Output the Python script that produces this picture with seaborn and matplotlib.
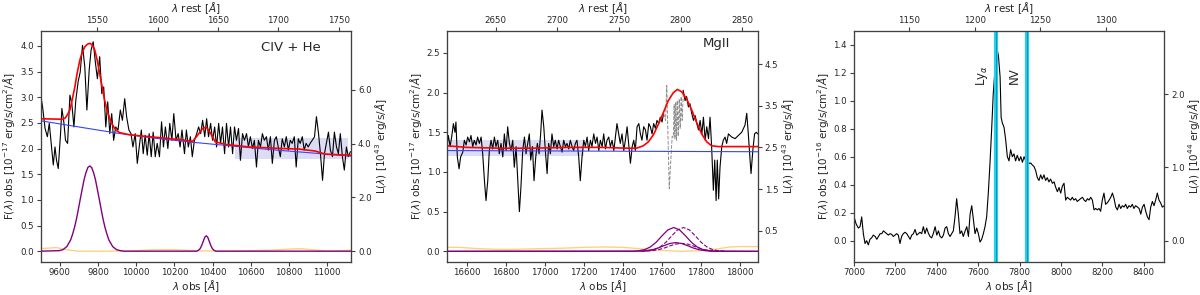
import matplotlib
matplotlib.use("Agg")
import matplotlib.pyplot as plt
import seaborn as sns
import numpy as np
from matplotlib.ticker import FixedLocator, FormatStrFormatter

sns.set_style("ticks")
plt.rcParams.update({
    'font.family': ['DejaVu Sans'],
    'axes.edgecolor': '0.25',
    'xtick.color': '0.25',
    'ytick.color': '0.25',
    'xtick.labelcolor': '0.15',
    'ytick.labelcolor': '0.15',
    'xtick.labelsize': 6.2,
    'ytick.labelsize': 6.2,
    'axes.labelsize': 7.5,
    'axes.linewidth': 0.8,
    'xtick.major.size': 3,
    'ytick.major.size': 3,
    'xtick.major.pad': 1.5,
    'ytick.major.pad': 2,
})

# redshift (1+z) and flux -> luminosity factor
one_plus_z = 6.32
lum_factor = 1.91

# ---------------- panel 1: CIV + HeII ----------------
civ_lam = [9500, 9510, 9523, 9535, 9545, 9557, 9566, 9575, 9583, 9592, 9604, 9611, 9621, 9630, 9641,
           9653, 9663, 9674, 9684, 9696, 9707, 9719, 9731, 9742, 9754, 9764, 9775, 9787, 9797, 9809,
           9820, 9830, 9841, 9851, 9862, 9872, 9882, 9893, 9905, 9917, 9928, 9940, 9950, 9962, 9973,
           9983, 9995, 10006, 10016, 10027, 10037, 10047, 10058, 10068, 10079, 10089, 10100, 10110,
           10122, 10133, 10143, 10153, 10166, 10176, 10187, 10197, 10209, 10220, 10230, 10240, 10253,
           10263, 10273, 10284, 10294, 10305, 10317, 10327, 10338, 10348, 10359, 10369, 10379, 10390,
           10400, 10411, 10421, 10432, 10442, 10452, 10463, 10473, 10484, 10494, 10505, 10515, 10525,
           10536, 10546, 10557, 10567, 10578, 10588, 10598, 10609, 10619, 10630, 10640, 10651, 10661,
           10671, 10682, 10692, 10703, 10713, 10724, 10734, 10744, 10755, 10765, 10776, 10786, 10797,
           10807, 10817, 10828, 10838, 10849, 10859, 10870, 10880, 10890, 10901, 10911, 10922, 10934,
           10944, 10955, 10965, 10976, 10986, 10996, 11007, 11017, 11028, 11038, 11049, 11059, 11069,
           11080, 11090, 11101, 11111, 11122]
civ_flux = [3.04, 2.81, 2.39, 2.23, 2.49, 2.03, 1.68, 2.03, 1.77, 1.61, 2.29, 2.78, 2.52, 2.16, 2.10,
            3.04, 2.88, 2.42, 2.94, 3.30, 3.49, 4.01, 3.59, 2.75, 3.53, 3.92, 4.08, 3.66, 3.36, 3.79,
            3.07, 3.20, 2.42, 2.91, 2.29, 2.68, 2.16, 2.42, 2.36, 2.75, 2.55, 2.97, 2.62, 2.36, 2.29,
            2.03, 2.29, 1.71, 2.03, 2.36, 1.90, 2.26, 1.87, 2.29, 1.84, 2.32, 1.84, 2.10,
            1.84, 2.52, 2.03, 2.42, 2.00, 2.49, 2.16, 2.68, 2.16, 2.29, 2.03, 2.36, 1.90,
            2.36, 2.03, 2.23, 1.84, 2.16, 2.29, 2.42, 2.29, 2.55, 2.23, 2.58, 2.23, 2.49,
            2.16, 2.42, 2.03, 2.49, 2.10, 2.42, 1.90, 2.49, 2.03, 2.42, 1.90, 2.42, 2.16,
            2.39, 1.77, 2.29, 2.16, 2.29, 2.03, 2.23, 2.00, 2.16, 1.64, 2.16, 2.03, 2.29,
            2.16, 2.23, 1.97, 2.23, 1.71, 2.16, 2.23, 2.03, 1.84, 2.19, 2.03, 2.23, 1.97,
            2.16, 2.10, 2.23, 1.64, 2.19, 2.10, 2.23, 1.97, 2.10, 2.03, 2.10, 2.16, 2.23,
            2.62, 2.29, 1.90, 1.38, 1.90, 2.10, 2.32, 1.97, 1.84, 2.32, 2.03, 1.90, 2.29,
            1.84, 1.58, 2.03, 1.84, 1.94]
civ_model_lam = [9500, 9618, 9630, 9640, 9653, 9665, 9679, 9690, 9705, 9718, 9731, 9744, 9757, 9770,
                 9783, 9796, 9809, 9822, 9835, 9848, 9862, 9875, 9888, 9900, 9914, 9948, 9983, 10070,
                 10157, 10261, 10296, 10322, 10348, 10366, 10386, 10414, 10470, 10591, 10765, 10852,
                 10939, 10991, 11125]
civ_model = [2.58, 2.57, 2.60, 2.66, 2.75, 2.95, 3.20, 3.45, 3.72, 3.88, 3.98, 4.03, 4.05, 4.02,
             3.92, 3.72, 3.46, 3.20, 2.94, 2.74, 2.58, 2.47, 2.39, 2.34, 2.31, 2.28, 2.26, 2.23,
             2.20, 2.16, 2.14, 2.26, 2.39, 2.42, 2.32, 2.13, 2.08, 2.03, 2.00, 1.99,
             1.95, 1.89, 1.87]
civ_cont_lam = [9500, 9700, 9900, 10100, 10300, 10500, 10700, 10900, 11125]
civ_cont = [2.54, 2.42, 2.30, 2.20, 2.12, 2.05, 1.98, 1.92, 1.85]
civ_gauss_lam = [9500, 9597, 9617, 9637, 9657, 9667, 9677, 9687, 9697, 9707, 9717, 9727, 9737, 9747,
                 9757, 9767, 9777, 9787, 9797, 9807, 9817, 9827, 9837, 9847, 9857, 9877, 9897, 9917,
                 9940, 10317, 10327, 10335, 10343, 10351, 10359, 10367, 10375, 10383, 10391, 10399,
                 10407, 10417, 11125]
civ_gauss = [0.0, 0.01, 0.03, 0.09, 0.22, 0.33, 0.46, 0.62, 0.81, 1.01, 1.20, 1.39, 1.53, 1.63,
             1.66, 1.63, 1.53, 1.39, 1.20, 1.01, 0.81, 0.62, 0.46, 0.33, 0.22, 0.09, 0.03, 0.01,
             0.0, 0.0, 0.02, 0.05, 0.11, 0.19, 0.27, 0.30, 0.27, 0.19, 0.11, 0.05,
             0.02, 0.0, 0.0]
civ_fe_lam = [9500, 9540, 9580, 9610, 9650, 9700, 9950, 10000, 10100, 10200, 10300, 10450, 10600,
              10700, 10800, 10860, 10920, 11000, 11080, 11125]
civ_fe = [0.05, 0.06, 0.07, 0.05, 0.02, 0.0, 0.0, 0.01, 0.03, 0.03, 0.01, 0.0, 0.01,
          0.02, 0.04, 0.05, 0.03, 0.0, 0.01, 0.02]
civ_band = [10520, 11110, 1.79, 2.21]

# ---------------- panel 2: MgII ----------------
mg_lam_a = [16500, 16505, 16514, 16522, 16531, 16539, 16544, 16551, 16560, 16568, 16579, 16587, 16596,
            16604, 16613, 16621, 16630, 16638, 16647, 16655, 16664, 16673, 16681, 16690, 16698, 16707,
            16715, 16724, 16732, 16741, 16749, 16758, 16766, 16775, 16784, 16792, 16801, 16809, 16818,
            16826, 16835, 16843, 16852, 16860, 16869, 16877, 16886, 16895, 16903, 16912, 16920, 16927,
            16936, 16944, 16953, 16961, 16970, 16978, 16985, 16994, 17002, 17011, 17019, 17028, 17036,
            17045, 17053, 17062, 17070, 17079, 17088, 17096, 17105, 17113, 17122, 17130, 17139, 17147,
            17156, 17164, 17173, 17181, 17190, 17199, 17207, 17216, 17224, 17233, 17241, 17250, 17259,
            17267, 17276, 17284, 17293, 17301, 17310, 17318, 17327, 17335, 17344, 17353, 17361, 17369,
            17378, 17386, 17395, 17404, 17412, 17421, 17429, 17438, 17447, 17455, 17463, 17472, 17481,
            17489, 17497, 17506, 17515, 17523, 17532, 17540, 17549, 17557, 17566, 17574, 17583, 17591,
            17600, 17608]
mg_flux_a = [1.36, 1.46, 1.32, 1.44, 1.61, 1.50, 1.63, 1.19, 1.04, 1.19, 1.25, 1.40, 1.34,
             1.44, 1.38, 1.46, 1.32, 1.40, 1.34, 1.44, 1.36, 1.44, 1.23, 0.89, 0.64, 0.89,
             1.27, 1.40, 1.29, 1.44, 1.32, 1.40, 1.23, 1.36, 1.19, 1.48, 1.27, 1.57, 1.36,
             1.27, 1.40, 1.06, 1.32, 0.94, 0.50, 0.81, 1.27, 1.44, 1.23, 1.36, 1.48, 1.15,
             1.32, 0.89, 1.19, 1.36, 1.23, 1.48, 1.78, 1.57, 1.27, 0.98, 1.36, 1.23, 1.48,
             1.32, 1.40, 1.29, 1.40, 1.32, 1.25, 1.40, 1.32, 1.36, 1.29, 1.40, 1.32, 1.27,
             1.36, 1.40, 1.19, 0.89, 1.19, 1.40, 1.32, 1.44, 1.27, 1.40, 1.32, 1.48, 1.36,
             1.44, 1.27, 1.40, 1.32, 1.48, 1.29, 1.40, 1.44, 1.32, 1.40, 1.27, 1.44, 1.61,
             1.48, 1.36, 1.48, 1.27, 1.40, 1.57, 1.36, 1.11, 1.32, 1.40, 1.27, 1.57, 1.61,
             1.48, 1.40, 1.57, 1.53, 1.40, 1.61, 1.57, 1.48, 1.61, 1.55, 1.65, 1.61, 1.69,
             1.63, 1.74]
mg_lam_b = [17708, 17718, 17726, 17735, 17743, 17752, 17761, 17770, 17778, 17787, 17795, 17804, 17812,
            17821, 17829, 17838, 17846, 17854, 17863, 17870, 17877, 17883, 17890, 17897, 17906, 17914,
            17923, 17931, 17940, 17957, 17974, 17991, 18008, 18025, 18034, 18042, 18051, 18056, 18065,
            18074, 18083, 18090]
mg_flux_b = [2.03, 1.90, 1.95, 1.82, 1.86, 1.74, 1.65, 1.71, 1.61, 1.53, 1.65, 1.48, 1.69,
             1.40, 1.57, 1.42, 1.69, 1.32, 0.77, 1.15, 0.64, 1.15, 0.66, 1.06, 1.32, 1.40,
             1.44, 1.36, 1.48, 1.44, 1.42, 1.46, 1.50, 1.59, 1.74, 1.48, 1.15, 0.98, 1.27,
             1.48, 1.50, 1.48]
mg_mask_lam = [17608, 17618, 17624, 17630, 17637, 17646, 17652, 17658, 17662, 17666, 17670, 17674,
               17678, 17683, 17688, 17693, 17698, 17703, 17709]
mg_mask = [1.74, 1.65, 2.09, 1.50, 0.79, 1.20, 1.45, 1.44, 1.85, 1.42, 1.88, 1.40,
           1.90, 1.45, 1.92, 1.55, 1.95, 1.65, 2.01]
mg_model_lam = [16500, 16599, 16770, 16941, 17111, 17282, 17419, 17470, 17504, 17530, 17556, 17581,
                17607, 17632, 17658, 17679, 17701, 17726, 17752, 17778, 17803, 17829, 17854, 17889, 18090]
mg_model = [1.33, 1.31, 1.30, 1.30, 1.31, 1.31, 1.30, 1.30, 1.33, 1.38, 1.47, 1.60,
            1.75, 1.90, 2.00, 2.04, 2.01, 1.92, 1.78, 1.62, 1.48, 1.38, 1.33, 1.32, 1.32]
mg_cont_lam = [16500, 18090]
mg_cont = [1.27, 1.255]
mg_gauss_lam = [16500, 17450, 17480, 17510, 17540, 17570, 17600, 17630, 17660, 17690, 17720, 17750,
                17780, 17810, 17840, 17870, 18090]
mg_gauss_big = [0.0, 0.002, 0.007, 0.021, 0.055, 0.115, 0.196, 0.270, 0.30, 0.270, 0.196, 0.115,
                0.055, 0.021, 0.007, 0.002, 0.0]
mg_gauss_small_lam = [16500, 17460, 17490, 17520, 17550, 17580, 17610, 17640, 17670, 17700, 17730,
                      17760, 17790, 17820, 17850, 17880, 18090]
mg_gauss_small = [0.0, 0.001, 0.003, 0.008, 0.020, 0.042, 0.072, 0.099, 0.11, 0.099, 0.072,
                  0.042, 0.020, 0.008, 0.003, 0.001, 0.0]
mg_dash_big_lam = [17500, 17530, 17560, 17590, 17620, 17650, 17680, 17710, 17740, 17770, 17800,
                   17830, 17860, 17890, 17920]
mg_dash_big = [0.002, 0.007, 0.021, 0.055, 0.115, 0.196, 0.270, 0.30, 0.270, 0.196, 0.115,
               0.055, 0.021, 0.007, 0.002]
mg_dash_small_lam = [17490, 17520, 17550, 17580, 17610, 17640, 17670, 17700, 17730, 17760, 17790,
                     17820, 17850, 17880, 17910]
mg_dash_small = [0.001, 0.003, 0.008, 0.020, 0.040, 0.068, 0.092, 0.10, 0.092, 0.068, 0.040,
                 0.020, 0.008, 0.003, 0.001]
mg_fe_lam = [16500, 16560, 16650, 16750, 16850, 17000, 17100, 17200, 17300, 17400, 17500, 17600,
             17700, 17800, 17880, 17950, 18000, 18090]
mg_fe = [0.05, 0.05, 0.035, 0.025, 0.025, 0.035, 0.04, 0.05, 0.055, 0.05, 0.03, 0.01,
         0.0, 0.01, 0.03, 0.055, 0.06, 0.06]
mg_band = [16500, 17200, 1.20, 1.40]

# ---------------- panel 3: Lya + NV ----------------
lya_lam = [7000, 7010, 7021, 7029, 7037, 7045, 7053, 7061, 7069, 7077, 7085, 7093, 7102, 7110, 7118,
           7126, 7134, 7142, 7150, 7158, 7166, 7174, 7182, 7190, 7198, 7206, 7214, 7222, 7230, 7238,
           7246, 7255, 7263, 7271, 7279, 7287, 7295, 7303, 7311, 7319, 7327, 7335, 7343, 7351, 7359,
           7367, 7375, 7383, 7392, 7400, 7408, 7416, 7424, 7432, 7440, 7448, 7456, 7464, 7472, 7480,
           7488, 7496, 7504, 7512, 7520, 7528, 7537, 7545, 7553, 7561, 7569, 7577, 7585, 7593, 7601,
           7609, 7617, 7625, 7633, 7641, 7649, 7657, 7665, 7673, 7682, 7690, 7698, 7706, 7711, 7717,
           7725, 7733, 7741, 7749, 7757, 7765, 7773, 7781, 7789, 7798, 7806, 7814, 7822, 7830, 7838,
           7846, 7854, 7862, 7870, 7878, 7886, 7894, 7902, 7910, 7918, 7926, 7934, 7942, 7950, 7959,
           7967, 7975, 7983, 7991, 7999, 8007, 8015, 8023, 8031, 8039, 8047, 8055, 8063, 8071, 8079,
           8087, 8095, 8104, 8112, 8120, 8128, 8136, 8144, 8152, 8160, 8168, 8176, 8184, 8192, 8200,
           8208, 8216, 8224, 8233, 8241, 8249, 8257, 8265, 8273, 8281, 8289, 8297, 8305, 8313, 8321,
           8329, 8337, 8345, 8353, 8361, 8370, 8378, 8386, 8394, 8402, 8410, 8418, 8426, 8434, 8442,
           8450, 8458, 8466, 8474, 8482, 8490, 8500]
lya_flux = [0.17, 0.12, 0.09, 0.10, 0.17, 0.05, -0.02, 0.00, -0.03, 0.01, 0.02, 0.04, 0.03, 0.01, 0.03,
            0.05, 0.05, 0.07, 0.06, 0.05, 0.04, 0.05, 0.045, 0.03, 0.04, 0.05, 0.04, -0.02, 0.03, 0.05,
            0.06, 0.05, 0.03, 0.01, 0.04, 0.05, 0.08, 0.04, 0.05, 0.06, 0.05, 0.10, 0.05, 0.09, 0.055,
            0.03, 0.02, 0.05, 0.10, 0.04, 0.07, 0.03, 0.02, 0.04, 0.09, 0.10, 0.05, 0.03, 0.05, 0.07,
            0.17, 0.30, 0.19, 0.05, 0.07, 0.03, 0.07, 0.10, 0.03, 0.19, 0.25, 0.15, 0.05, 0.09, 0.05,
            -0.01, 0.01, 0.05, 0.10, 0.17, 0.34, 0.55, 0.79, 1.05, 1.24, 1.38, 1.32, 1.17, 0.88, 0.84,
            0.81, 0.72, 0.60, 0.57, 0.65, 0.60, 0.62, 0.57, 0.61, 0.57, 0.60, 0.56, 0.60, 0.57, 0.59,
            0.55, 0.555, 0.54, 0.53, 0.50, 0.45, 0.43, 0.47, 0.44, 0.47, 0.43, 0.45, 0.42, 0.44, 0.41,
            0.42, 0.38, 0.35, 0.38, 0.34, 0.39, 0.41, 0.29, 0.31, 0.30, 0.29, 0.31, 0.29, 0.30, 0.28,
            0.29, 0.30, 0.31, 0.29, 0.28, 0.30, 0.29, 0.31, 0.29, 0.22, 0.23, 0.22, 0.23, 0.21, 0.29,
            0.34, 0.26, 0.27, 0.29, 0.31, 0.34, 0.30, 0.24, 0.22, 0.26, 0.23, 0.25, 0.24, 0.26, 0.23,
            0.25, 0.24, 0.26, 0.23, 0.25, 0.24, 0.23, 0.19, 0.24, 0.26, 0.21, 0.17, 0.15, 0.24, 0.28,
            0.25, 0.29, 0.34, 0.29, 0.27, 0.24, 0.25]
lya_lines = [7685, 7837]
lya_line_names = [r'Ly$_{\alpha}$', 'NV']

# axis limits and ticks
panel_xlim = [(9500, 11125), (16500, 18090), (7000, 8500)]
panel_ylim = [(-0.21, 4.29), (-0.134, 2.777), (-0.152, 1.498)]
left_ticks = [np.arange(0, 4.01, 0.5), np.arange(0, 2.51, 0.5), np.arange(0, 1.41, 0.2)]
right_ticks = [[0, 2, 4, 6], [0.5, 1.5, 2.5, 3.5, 4.5], [0, 1, 2]]
bottom_ticks = [np.arange(9600, 11001, 200), np.arange(16600, 18001, 200), np.arange(7000, 8401, 200)]
top_ticks = [[1550, 1600, 1650, 1700, 1750], [2650, 2700, 2750, 2800, 2850], [1150, 1200, 1250, 1300]]
flux_labels = [r'F($\lambda$) obs [10$^{-17}$ erg/s/cm$^2$/$\AA$]',
               r'F($\lambda$) obs [10$^{-17}$ erg/s/cm$^2$/$\AA$]',
               r'F($\lambda$) obs [10$^{-16}$ erg/s/cm$^2$/$\AA$]']
lum_labels = [r'L($\lambda$) [10$^{43}$ erg/s/$\AA$]',
              r'L($\lambda$) [10$^{43}$ erg/s/$\AA$]',
              r'L($\lambda$) [10$^{44}$ erg/s/$\AA$]']
line_labels = ['CIV + He', 'MgII']
line_label_pos = [(0.806, 0.93), (0.868, 0.945)]

fig = plt.figure(figsize=(12, 2.95), dpi=100)
lefts = [0.0339, 0.3728, 0.7117]
axes = []
for i, left in enumerate(lefts):
    ax = fig.add_axes([left, 0.112, 0.2586, 0.783])
    ax.set_xlim(panel_xlim[i])
    ax.set_ylim(panel_ylim[i])
    ax.xaxis.set_major_locator(FixedLocator(bottom_ticks[i]))
    ax.yaxis.set_major_locator(FixedLocator(left_ticks[i]))
    ax.yaxis.set_major_formatter(FormatStrFormatter('%.1f'))
    ax.set_xlabel(r'$\lambda$ obs [$\AA$]', labelpad=1)
    ax.set_ylabel(flux_labels[i], labelpad=2)

    top = ax.twiny()
    top.set_xlim(panel_xlim[i][0] / one_plus_z, panel_xlim[i][1] / one_plus_z)
    top.xaxis.set_major_locator(FixedLocator(top_ticks[i]))
    top.set_xlabel(r'$\lambda$ rest [$\AA$]', labelpad=2.5)

    right = ax.twinx()
    right.set_ylim(panel_ylim[i][0] * lum_factor, panel_ylim[i][1] * lum_factor)
    right.yaxis.set_major_locator(FixedLocator(right_ticks[i]))
    right.yaxis.set_major_formatter(FormatStrFormatter('%.1f'))
    right.set_ylabel(lum_labels[i], labelpad=1)
    axes.append(ax)

line_kw = dict(estimator=None, sort=False, legend=False)

# panel 1
ax = axes[0]
ax.fill_between(civ_band[:2], civ_band[2], civ_band[3], color='#dcdcf4', lw=0, zorder=0)
sns.lineplot(x=civ_lam, y=civ_flux, ax=ax, color='k', lw=0.8, **line_kw)
sns.lineplot(x=civ_cont_lam, y=civ_cont, ax=ax, color='#3344ff', lw=0.8, **line_kw)
sns.lineplot(x=civ_model_lam, y=civ_model, ax=ax, color='red', lw=1.2, **line_kw)
sns.lineplot(x=civ_fe_lam, y=civ_fe, ax=ax, color='orange', lw=1.0, alpha=0.5, **line_kw)
sns.lineplot(x=civ_gauss_lam, y=civ_gauss, ax=ax, color='purple', lw=1.0, **line_kw)

# panel 2
ax = axes[1]
ax.fill_between(mg_band[:2], mg_band[2], mg_band[3], color='#dcdcf4', lw=0, zorder=0)
sns.lineplot(x=mg_lam_a, y=mg_flux_a, ax=ax, color='k', lw=0.8, **line_kw)
sns.lineplot(x=mg_lam_b, y=mg_flux_b, ax=ax, color='k', lw=0.8, **line_kw)
sns.lineplot(x=mg_mask_lam, y=mg_mask, ax=ax, color='0.55', lw=0.7, ls='--', **line_kw)
sns.lineplot(x=mg_cont_lam, y=mg_cont, ax=ax, color='#3344ff', lw=0.8, **line_kw)
sns.lineplot(x=mg_model_lam, y=mg_model, ax=ax, color='red', lw=1.2, **line_kw)
sns.lineplot(x=mg_fe_lam, y=mg_fe, ax=ax, color='orange', lw=1.0, alpha=0.5, **line_kw)
sns.lineplot(x=mg_gauss_lam, y=mg_gauss_big, ax=ax, color='purple', lw=0.9, **line_kw)
sns.lineplot(x=mg_gauss_small_lam, y=mg_gauss_small, ax=ax, color='purple', lw=0.9, **line_kw)
sns.lineplot(x=mg_dash_big_lam, y=mg_dash_big, ax=ax, color='purple', lw=0.8, ls='--', **line_kw)
sns.lineplot(x=mg_dash_small_lam, y=mg_dash_small, ax=ax, color='purple', lw=0.8, ls='--', **line_kw)

for ax, name, (tx, ty) in zip(axes[:2], line_labels, line_label_pos):
    ax.text(tx, ty, name, transform=ax.transAxes, fontsize=9.5, ha='center', va='center')

# panel 3
ax = axes[2]
sns.lineplot(x=lya_lam, y=lya_flux, ax=ax, color='k', lw=0.8, **line_kw)
for lam, name in zip(lya_lines, lya_line_names):
    ax.axvline(lam, color='#22d3ee', lw=3.0, zorder=3)
    ax.axvline(lam, color='#1b8fc0', lw=0.8, zorder=4)
    ax.text(lam - 30, 1.18, name, rotation=90, fontsize=8.5, ha='right', va='center')

fig.savefig('out.png', dpi=100)
